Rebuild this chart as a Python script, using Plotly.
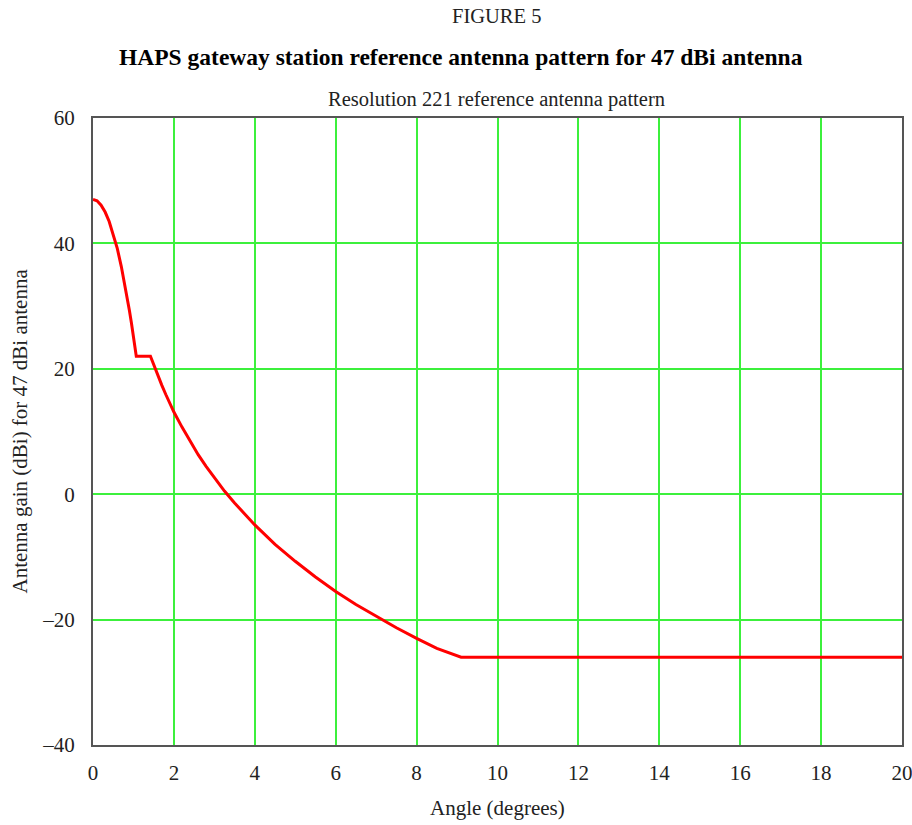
import plotly.graph_objects as go

angle_deg = [0.0, 0.1, 0.2, 0.3, 0.4, 0.5, 0.6, 0.7, 0.8, 0.9, 0.95, 1.0, 1.07,
             1.42, 1.5, 1.6, 1.7, 1.8, 1.9, 2.0, 2.2, 2.4, 2.6, 2.8, 3.0, 3.25,
             3.5, 3.75, 4.0, 4.5, 5.0, 5.5, 6.0, 6.5, 7.0, 7.5, 8.0, 8.5, 9.1, 20.0]
gain_dbi = [47.0, 46.8, 46.1, 45.0, 43.5, 41.5, 39.2, 36.3, 33.0, 29.3, 27.3, 25.2, 22.0,
            22.0, 20.6, 18.95, 17.4, 15.9, 14.5, 13.1, 10.7, 8.4, 6.3, 4.4, 2.6, 0.5,
            -1.4, -3.2, -4.9, -8.0, -10.7, -13.2, -15.5, -17.6, -19.5, -21.3, -23.0, -24.6, -26.0, -26.0]

x_ticks = [0, 2, 4, 6, 8, 10, 12, 14, 16, 18, 20]
x_ticktext = [str(v) for v in x_ticks]
y_ticks = [-40, -20, 0, 20, 40, 60]
y_ticktext = ["–40", "–20", "0", "20", "40", "60"]

FONT = "Liberation Serif"
GRID = "#3cf03c"
FRAME = "#555555"

W, H = 912, 825
L, R, T, B = 93, 10, 118, 80
PH = H - T - B
PW = W - L - R
OFF = 0  # page offset of the figure (body margin removed)


def py(p):
    # page pixel row -> paper y
    return (H - B - (p - OFF)) / PH


def px(p):
    # page pixel column -> paper x
    return ((p - OFF) - L) / PW


fig = go.Figure()
fig.add_trace(go.Scatter(x=angle_deg, y=gain_dbi, mode="lines",
                         line=dict(color="#ff0000", width=3),
                         showlegend=False, hoverinfo="skip"))

fig.update_layout(
    width=W, height=H,
    margin=dict(l=L, r=R, t=T, b=B, autoexpand=False),
    paper_bgcolor="white", plot_bgcolor="white",
    font=dict(family=FONT, size=21, color="#222222"),
    xaxis=dict(range=[0, 20], tickvals=x_ticks, ticktext=x_ticktext,
               showgrid=True, gridcolor=GRID, gridwidth=2, zeroline=False,
               showline=True, linecolor=FRAME, linewidth=2, mirror=True,
               automargin=False, ticklabeloverflow="allow",
               ticks="", ticklabelstandoff=8, tickfont=dict(size=21)),
    yaxis=dict(range=[-40, 60], tickvals=y_ticks, ticktext=y_ticktext,
               showgrid=True, gridcolor=GRID, gridwidth=2, zeroline=False,
               showline=True, linecolor=FRAME, linewidth=2, mirror=True,
               automargin=False, ticklabeloverflow="allow",
               ticks="", ticklabelstandoff=12, tickfont=dict(size=21)),
    annotations=[
        dict(text="FIGURE 5", xref="paper", yref="paper", x=px(496), y=py(16),
             showarrow=False, font=dict(size=20.5), xanchor="center", yanchor="middle"),
        dict(text="<b>HAPS gateway station reference antenna pattern for 47 dBi antenna</b>",
             xref="paper", yref="paper", x=px(461), y=py(57),
             showarrow=False, font=dict(size=23.5, color="#000000"), xanchor="center", yanchor="middle"),
        dict(text="Resolution 221 reference antenna pattern", xref="paper", yref="paper",
             x=px(496), y=py(99), showarrow=False, font=dict(size=20.5),
             xanchor="center", yanchor="middle"),
        dict(text="Angle (degrees)", xref="paper", yref="paper", x=px(497), y=py(808),
             showarrow=False, font=dict(size=21), xanchor="center", yanchor="middle"),
        dict(text="Antenna gain (dBi) for 47 dBi antenna", xref="paper", yref="paper",
             x=px(19), y=0.5, textangle=-90, showarrow=False, font=dict(size=21),
             xanchor="center", yanchor="middle"),
    ],
)

fig.write_html("out.html",
               config={"displayModeBar": False},
               post_script="document.body.style.margin='0px';document.body.style.overflow='hidden';")
